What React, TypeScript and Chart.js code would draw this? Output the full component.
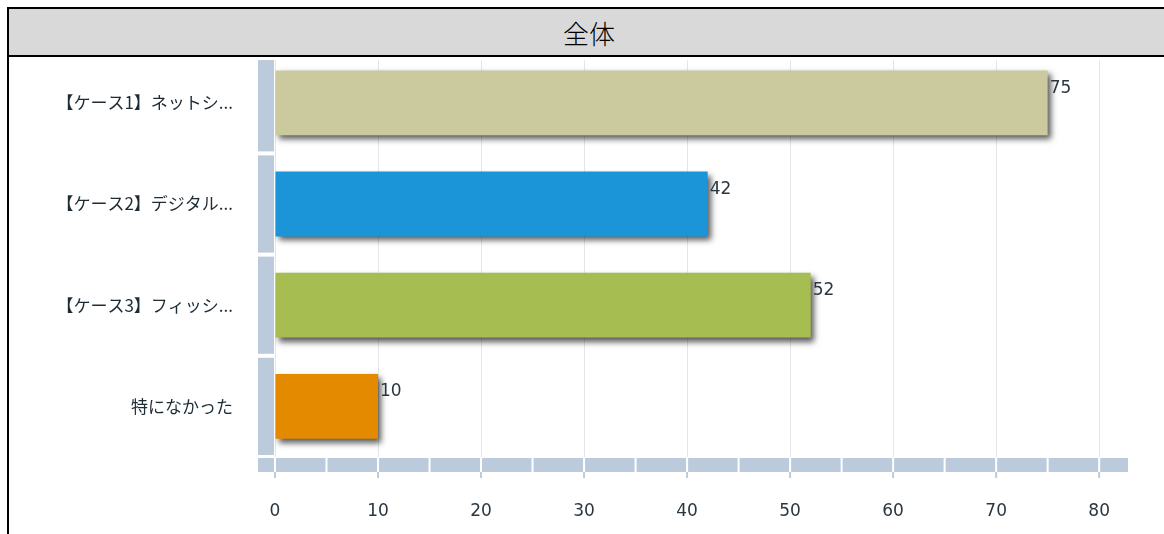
import React, { useEffect, useRef } from "react";
import { Chart, registerables } from "chart.js";

Chart.register(...registerables);

const title = "全体";
const categories = [
  "【ケース1】ネットシ...",
  "【ケース2】デジタル...",
  "【ケース3】フィッシ...",
  "特になかった",
];
const values = [75, 42, 52, 10];
const barColors = ["#cbc99e", "#1b95d8", "#a6bd51", "#e38a00"];
const xTicks = [0, 10, 20, 30, 40, 50, 60, 70, 80];
const xMin = 0;
const xMax = 82.8;
const bandStep = 5;

const BAND = "#bccbdc";

const decorPlugin = {
  id: "decor",
  beforeDraw(chart: any) {
    const ctx = chart.ctx;
    ctx.save();
    ctx.beginPath();
    ctx.rect(0, 60, chart.width, chart.height - 60);
    ctx.clip();
  },
  beforeDatasetsDraw(chart: any) {
    const ctx = chart.ctx;
    const area = chart.chartArea;
    const xs = chart.scales.x;
    const ys = chart.scales.y;
    const bandLeft = area.left - 17;
    ctx.save();
    ctx.fillStyle = BAND;
    const n = categories.length;
    const cat = (area.bottom - area.top) / n;
    for (let i = 0; i < n; i++) {
      const c = ys.getPixelForValue(i);
      ctx.fillRect(bandLeft, c - cat / 2 + 2, 16, cat - 4);
    }
    const bTop = area.bottom + 1;
    const bH = 14;
    ctx.fillRect(bandLeft, bTop, area.right - bandLeft, bH);
    ctx.fillStyle = "#ffffff";
    for (let v = xMin; v <= xMax; v += bandStep) {
      const px = xs.getPixelForValue(v);
      ctx.fillRect(px - 1, bTop, 2, bH);
    }
    ctx.fillStyle = BAND;
    xTicks.forEach((v) => {
      const px = xs.getPixelForValue(v);
      ctx.fillRect(px - 1, bTop + bH, 2, 6);
    });
    ctx.restore();
    ctx.save();
    ctx.shadowColor = "rgba(0,0,0,0.65)";
    ctx.shadowOffsetX = 3;
    ctx.shadowOffsetY = 4;
    ctx.shadowBlur = 6;
  },
  afterDatasetsDraw(chart: any) {
    const ctx = chart.ctx;
    ctx.restore();
    const meta = chart.getDatasetMeta(0);
    ctx.save();
    ctx.font = "17px 'DejaVu Sans'";
    ctx.fillStyle = "#2a3640";
    ctx.textAlign = "left";
    ctx.textBaseline = "middle";
    meta.data.forEach((el: any, i: number) => {
      const top = el.y - el.height / 2;
      ctx.fillText(String(values[i]), el.x + 2, top + 18);
    });
    ctx.restore();
  },
  afterDraw(chart: any) {
    chart.ctx.restore();
  },
};

export default function App() {
  const ref = useRef<HTMLCanvasElement>(null);
  useEffect(() => {
    if (!ref.current) return;
    const chart = new Chart(ref.current, {
      type: "bar",
      data: {
        labels: categories,
        datasets: [
          {
            data: values,
            backgroundColor: barColors,
            borderWidth: 0,
            barPercentage: 0.64,
            categoryPercentage: 1,
          },
        ],
      },
      options: {
        indexAxis: "y",
        animation: false,
        responsive: false,
        maintainAspectRatio: false,
        layout: { padding: { top: 52, right: 36, left: 0, bottom: 0 } },
        plugins: {
          legend: { display: false },
          tooltip: { enabled: false },
          title: { display: false },
        },
        scales: {
          x: {
            type: "linear",
            min: xMin,
            max: xMax,
            grid: { color: "#e6e6e6", lineWidth: 1, drawTicks: false },
            border: { display: false },
            ticks: {
              autoSkip: false,
              maxRotation: 0,
              padding: 44,
              color: "#2a3640",
              font: { family: "'DejaVu Sans'", size: 17 },
            },
            afterBuildTicks: (scale: any) => {
              scale.ticks = xTicks.map((v) => ({ value: v }));
            },
            afterFit: (scale: any) => {
              scale.height = 77;
            },
          },
          y: {
            type: "category",
            grid: { display: false, drawTicks: false },
            border: { display: false },
            ticks: {
              padding: 42,
              color: "#1d2b35",
              font: { family: "'Noto Sans CJK JP'", size: 17 },
            },
            afterFit: (scale: any) => {
              scale.width = 275;
            },
          },
        },
      },
      plugins: [decorPlugin],
    });
    return () => chart.destroy();
  }, []);

  return (
    <div
      style={{
        position: "fixed",
        left: 0,
        top: 0,
        width: 1164,
        height: 534,
        overflow: "hidden",
        background: "#fff",
      }}
    >
      <canvas
        ref={ref}
        width={1164}
        height={534}
        style={{ position: "absolute", left: 0, top: 0, width: 1164, height: 534 }}
      />
      <div
        style={{
          position: "absolute",
          left: 7,
          top: 7,
          width: 1160,
          height: 560,
          borderTop: "2px solid #000",
          borderLeft: "2px solid #000",
          pointerEvents: "none",
        }}
      >
        <div
          style={{
            height: 46,
            background: "#d9d9d9",
            borderBottom: "2px solid #000",
            display: "flex",
            alignItems: "center",
            justifyContent: "center",
            fontFamily: "'Noto Sans CJK JP'",
            fontWeight: 300,
            fontSize: 26,
            color: "#000",
          }}
        >
          {title}
        </div>
      </div>
    </div>
  );
}
